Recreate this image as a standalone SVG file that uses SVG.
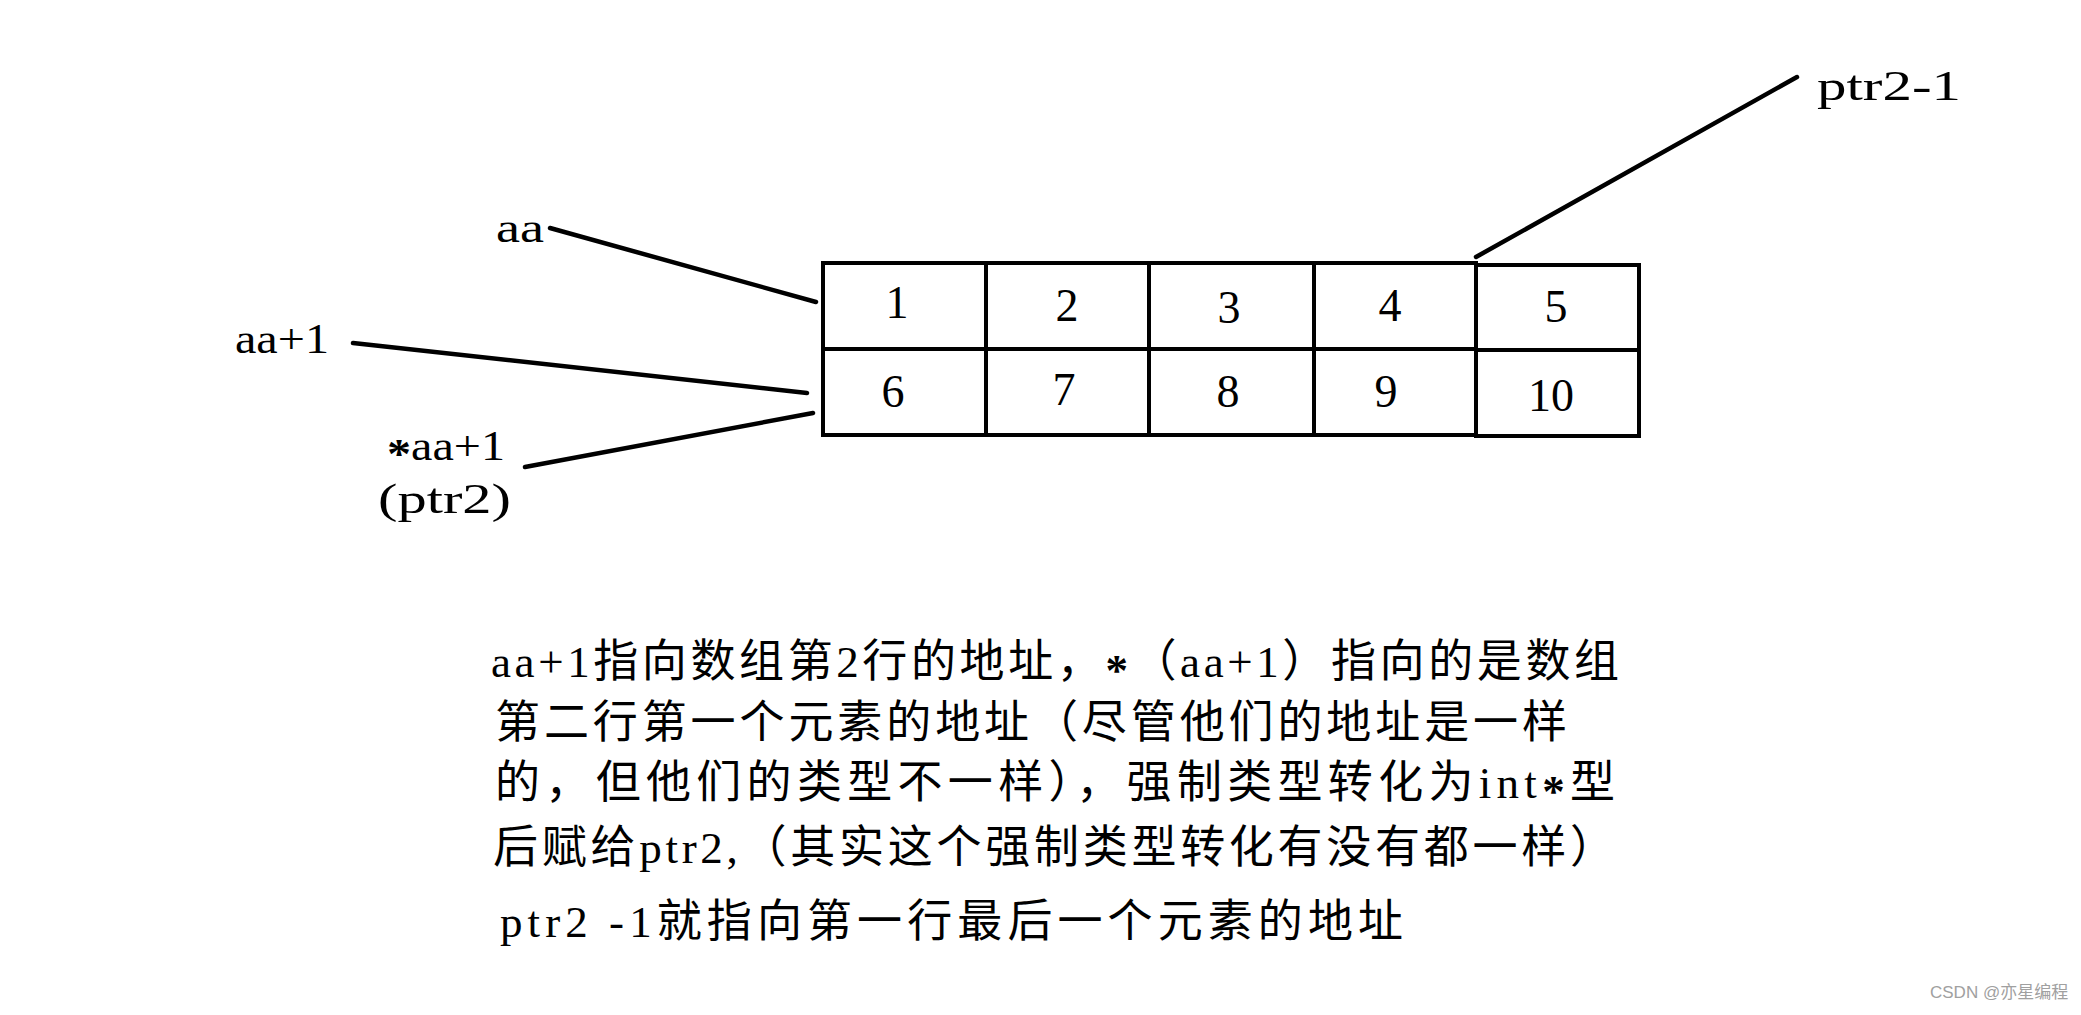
<svg xmlns="http://www.w3.org/2000/svg" width="2081" height="1015" viewBox="0 0 2081 1015">
<style>
.bg{fill:#ffffff}
.cell{fill:none;stroke:#000;stroke-width:4}
.num{font-family:"Liberation Serif","Noto Sans CJK SC",serif;font-size:46px;fill:#000;text-anchor:middle}
.lbl{font-family:"Liberation Serif","Noto Sans CJK SC",serif;font-size:42px;fill:#000}
.para{font-family:"Liberation Serif","Noto Sans CJK SC",serif;font-size:45px;fill:#000}
.ast{font-weight:bold}
.conn{stroke:#000;stroke-width:4.5;stroke-linecap:round;fill:none}
.wm{font-family:"Liberation Sans","Noto Sans CJK SC",sans-serif;font-size:17px;fill:#a0a0a0}
</style>
<rect class="bg" x="0" y="0" width="2081" height="1015"/>

<g id="connectors">
  <line class="conn" x1="550" y1="228" x2="816" y2="302"/>
  <line class="conn" x1="353" y1="343" x2="807" y2="393"/>
  <line class="conn" x1="525" y1="467" x2="813" y2="413"/>
  <line class="conn" x1="1476" y1="257" x2="1797" y2="77"/>
</g>

<g id="cell-1"><rect class="cell" x="823" y="263" width="163" height="86"/><text class="num" x="897" y="318">1</text></g>
<g id="cell-2"><rect class="cell" x="986" y="263" width="163" height="86"/><text class="num" x="1067" y="321">2</text></g>
<g id="cell-3"><rect class="cell" x="1149" y="263" width="165" height="86"/><text class="num" x="1229" y="323">3</text></g>
<g id="cell-4"><rect class="cell" x="1314" y="263" width="162" height="86"/><text class="num" x="1390" y="321">4</text></g>
<g id="cell-5"><rect class="cell" x="1476" y="265" width="163" height="85"/><text class="num" x="1556" y="322">5</text></g>
<g id="cell-6"><rect class="cell" x="823" y="349" width="163" height="86"/><text class="num" x="893" y="407">6</text></g>
<g id="cell-7"><rect class="cell" x="986" y="349" width="163" height="86"/><text class="num" x="1064" y="405">7</text></g>
<g id="cell-8"><rect class="cell" x="1149" y="349" width="165" height="86"/><text class="num" x="1228" y="407">8</text></g>
<g id="cell-9"><rect class="cell" x="1314" y="349" width="162" height="86"/><text class="num" x="1386" y="407">9</text></g>
<g id="cell-10"><rect class="cell" x="1476" y="350" width="163" height="86"/><text class="num" x="1551" y="411">10</text></g>

<g id="label-aa"><text class="lbl" x="496" y="242" textLength="48" lengthAdjust="spacingAndGlyphs">aa</text></g>
<g id="label-aa1"><text class="lbl" x="235" y="353" textLength="94" lengthAdjust="spacingAndGlyphs">aa+1</text></g>
<g id="label-ptr2">
  <text class="lbl" x="387" y="460" textLength="118" lengthAdjust="spacingAndGlyphs"><tspan class="ast" dy="8">*</tspan><tspan dy="-8">aa+1</tspan></text>
  <text class="lbl" x="378" y="513" textLength="133" lengthAdjust="spacingAndGlyphs">(ptr2)</text>
</g>
<g id="label-ptr2-1"><text class="lbl" x="1817" y="100" textLength="144" lengthAdjust="spacingAndGlyphs">ptr2-1</text></g>

<g id="explanation">
  <text class="para" x="491" y="677" textLength="1128" lengthAdjust="spacing">aa+1指向数组第2行的地址，<tspan class="ast" dy="8">*</tspan><tspan dy="-8">（aa+1）指向的是数组</tspan></text>
  <text class="para" x="495" y="738" textLength="1072" lengthAdjust="spacing">第二行第一个元素的地址（尽管他们的地址是一样</text>
  <text class="para" x="495" y="798" textLength="1120" lengthAdjust="spacing">的，但他们的类型不一样），强制类型转化为int<tspan class="ast" dy="8">*</tspan><tspan dy="-8">型</tspan></text>
  <text class="para" x="493" y="863" textLength="1122" lengthAdjust="spacing">后赋给ptr2,（其实这个强制类型转化有没有都一样）</text>
  <text class="para" x="500" y="937" textLength="903" lengthAdjust="spacing">ptr2 -1就指向第一行最后一个元素的地址</text>
</g>

<g id="watermark"><text class="wm" x="1930" y="998">CSDN @亦星编程</text></g>
</svg>
